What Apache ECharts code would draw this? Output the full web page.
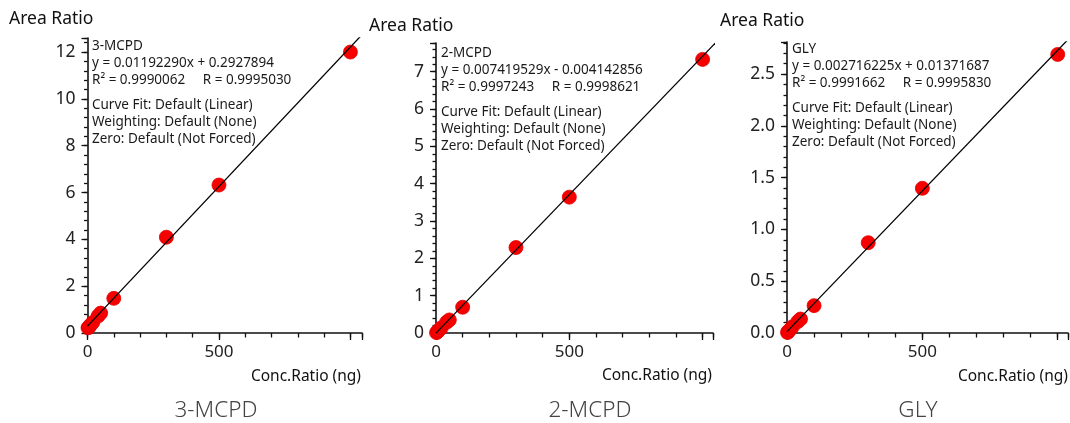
<!DOCTYPE html>
<html><head><meta charset="utf-8">
<script src="https://cdn.jsdelivr.net/npm/echarts@6/dist/echarts.min.js"></script>
<style>html,body{margin:0;padding:0;background:#fff}#c{width:1070px;height:423px}</style>
</head><body><div id="c"></div>
<script>
// ---- data ----
const conc = [2, 5, 10, 20, 40, 50, 100, 300, 500, 1000];
const ratio3MCPD = [0.22, 0.25, 0.32, 0.45, 0.72, 0.85, 1.48, 4.09, 6.32, 12.0];
const ratio2MCPD = [0.01, 0.03, 0.07, 0.14, 0.29, 0.35, 0.69, 2.29, 3.64, 7.33];
const ratioGLY = [0.005, 0.015, 0.03, 0.06, 0.11, 0.135, 0.264, 0.872, 1.397, 2.69];
// regression line end points (x, y) as printed equations give them
const fitX = [0, 1050];
const fit3MCPD = [0.2928, 12.812];
const fit2MCPD = [-0.0041, 7.786];
const fitGLY = [0.0137, 2.866];
// tick labels
const xTickLabels = [0, 500];
const yTicks3MCPD = [0, 2, 4, 6, 8, 10, 12];
const yTicks2MCPD = [0, 1, 2, 3, 4, 5, 6, 7];
const yTicksGLY = [0, 0.5, 1.0, 1.5, 2.0, 2.5];
const names = ['3-MCPD', '2-MCPD', 'GLY'];
const equations = [
  'y = 0.01192290x + 0.2927894',
  'y = 0.007419529x - 0.004142856',
  'y = 0.002716225x + 0.01371687'
];
const rLines = [
  'R\u00B2 = 0.9990062     R = 0.9995030',
  'R\u00B2 = 0.9997243     R = 0.9998621',
  'R\u00B2 = 0.9991662     R = 0.9995830'
];
const fitLines = ['Curve Fit: Default (Linear)', 'Weighting: Default (None)', 'Zero: Default (Not Forced)'];

// ---- layout ----
const FONT = '"Noto Sans", "Open Sans", sans-serif';
const panels = [
  {grid: {left: 87.5, top: 38, width: 274.5, height: 295}, xMax: 1044, yMax: 12.6, yTicks: yTicks3MCPD, yMinor: 0.4, yMajor: 2, dec: 0,
   ys: ratio3MCPD, fit: fit3MCPD, areaPos: [9, 19], blockPos: [92, 46], concPos: [361, 377], subPos: [216, 411]},
  {grid: {left: 436, top: 43, width: 277, height: 290}, xMax: 1039, yMax: 7.77, yTicks: yTicks2MCPD, yMinor: 0.2, yMajor: 1, dec: 0,
   ys: ratio2MCPD, fit: fit2MCPD, areaPos: [369, 26], blockPos: [441, 53], concPos: [712, 376], subPos: [590, 411]},
  {grid: {left: 787, top: 42, width: 281, height: 291}, xMax: 1038, yMax: 2.81, yTicks: yTicksGLY, yMinor: 0.1, yMajor: 0.5, dec: 1,
   ys: ratioGLY, fit: fitGLY, areaPos: [720, 21], blockPos: [792, 49], concPos: [1068, 377], subPos: [918, 411]}
];

const grid = [], xAxis = [], yAxis = [], series = [], graphic = [];
const axisColor = '#111';
const tickStyle = {color: axisColor, width: 1.3};
panels.forEach((p, i) => {
  grid.push(Object.assign({containLabel: false}, p.grid));
  // x axis: line, major ticks, labels
  xAxis.push({gridIndex: i, type: 'value', min: 0, max: p.xMax, interval: 500, position: 'bottom',
    axisLine: {show: true, onZero: false, lineStyle: {color: axisColor, width: 1.6}},
    axisTick: {show: true, length: 7, lineStyle: tickStyle},
    axisLabel: {show: true, customValues: xTickLabels, fontSize: 17, color: '#222', fontFamily: FONT, margin: 11},
    splitLine: {show: false}});
  // x axis: minor ticks only
  xAxis.push({gridIndex: i, type: 'value', min: 0, max: p.xMax, interval: 100, position: 'bottom', offset: 0,
    axisLine: {show: false}, axisLabel: {show: false}, splitLine: {show: false},
    axisTick: {show: true, length: 4.5, lineStyle: tickStyle}});
  // y axis: line, major ticks, labels
  yAxis.push({gridIndex: i, type: 'value', min: 0, max: p.yMax, interval: p.yMajor, position: 'left',
    axisLine: {show: true, onZero: false, lineStyle: {color: axisColor, width: 1.6}},
    axisTick: {show: true, length: 6, lineStyle: tickStyle},
    axisLabel: {show: true, customValues: p.yTicks, fontSize: 17.5, color: '#222', fontFamily: FONT, margin: 12,
      formatter: v => Number(v).toFixed(p.dec)},
    splitLine: {show: false}});
  // y axis: minor ticks only
  yAxis.push({gridIndex: i, type: 'value', min: 0, max: p.yMax, interval: p.yMinor, position: 'left', offset: 0,
    axisLine: {show: false}, axisLabel: {show: false}, splitLine: {show: false},
    axisTick: {show: true, length: 3.5, lineStyle: tickStyle}});

  series.push({type: 'scatter', xAxisIndex: 2 * i, yAxisIndex: 2 * i, clip: false, z: 2,
    symbol: 'circle', symbolSize: 14, itemStyle: {color: '#f60000', opacity: 1, borderColor: '#e20000', borderWidth: 0.8},
    data: conc.map((c, k) => [c, p.ys[k]])});
  series.push({type: 'line', xAxisIndex: 2 * i, yAxisIndex: 2 * i, clip: true, z: 3, symbol: 'none',
    lineStyle: {color: '#000', width: 1.3}, silent: true,
    data: fitX.map((x, k) => [x, p.fit[k]])});

  const txt = (x, y, text, size, align, color, weight) => ({type: 'text', silent: true,
    style: {x, y, text, font: `${weight || 'normal'} ${size}px ${FONT}`, fill: color || '#1a1a1a',
      textAlign: align || 'left', textVerticalAlign: 'middle'}});
  graphic.push(txt(p.areaPos[0], p.areaPos[1], 'Area Ratio', 17.5, 'left', '#111'));
  const lh = 16.9;
  const bx = p.blockPos[0], by = p.blockPos[1];
  const fs = 13.5;
  graphic.push(txt(bx, by, names[i], fs));
  graphic.push(txt(bx, by + lh, equations[i], fs));
  graphic.push(txt(bx, by + 2 * lh, rLines[i], fs));
  fitLines.forEach((t, k) => graphic.push(txt(bx, by + 59 + k * lh, t, fs)));
  graphic.push(txt(p.concPos[0], p.concPos[1], 'Conc.Ratio (ng)', 15.5, 'right', '#111'));
  graphic.push(txt(p.subPos[0], p.subPos[1], names[i], 22.5, 'center', '#444', 300));
});

const chart = echarts.init(document.getElementById('c'), null, {renderer: 'canvas'});
chart.setOption({animation: false, backgroundColor: '#fff', grid, xAxis, yAxis, series, graphic});
</script></body></html>
